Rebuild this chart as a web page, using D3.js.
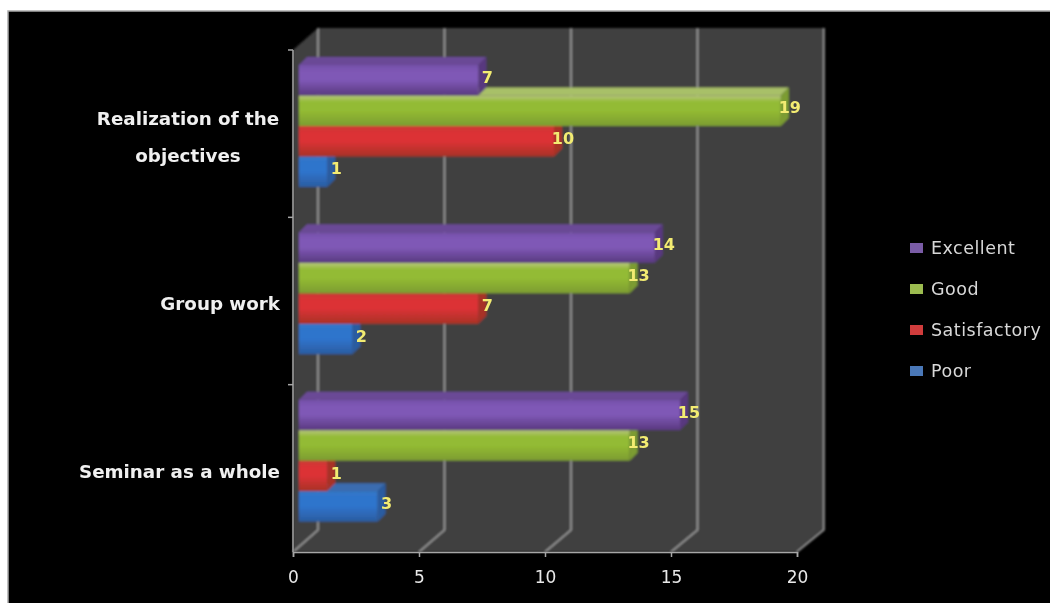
<!DOCTYPE html>
<html>
<head>
<meta charset="utf-8">
<script src="https://cdn.jsdelivr.net/npm/d3@7"></script>
<style>
  html, body { margin: 0; padding: 0; background: #fff; overflow: hidden; }
  svg { display: block; }
  text { font-family: "DejaVu Sans", sans-serif; }
</style>
</head>
<body>
<svg width="1050" height="603"></svg>
<script>
var categories = ["Realization of the objectives", "Group work", "Seminar as a whole"];
var categoryLines = [["Realization of the", "objectives"], ["Group work"], ["Seminar as a whole"]];
var seriesNames = ["Excellent", "Good", "Satisfactory", "Poor"];
var excellent = [7, 14, 15];
var good = [19, 13, 13];
var satisfactory = [10, 7, 1];
var poor = [1, 2, 3];
var xTicks = [0, 5, 10, 15, 20];

var seriesValues = [excellent, good, satisfactory, poor];
var colors = {
  Excellent: {top: "#6a4a96", edge: "#7450a8", hi: "#7f58b6", lo: "#59397f", key: "#7a5ca6"},
  Good: {top: "#a8c068", edge: "#b6c67c", hi: "#93bb34", lo: "#7c9c30", key: "#9cbc50"},
  Satisfactory: {top: "#b83a30", edge: "#c93a34", hi: "#dc3236", lo: "#a83226", key: "#d03c3c"},
  Poor: {top: "#3a6cb0", edge: "#3478c8", hi: "#2e74cc", lo: "#2c5ca0", key: "#4a78b8"}
};

var svg = d3.select("svg");
var left = 293, right = 797, top0 = 50, bottom = 552;
var wallLeft = 318, wallRight = 824, wallDy = 22;
var depthX = 8, depthY = 8;
var barShift = 7;

var x = d3.scaleLinear().domain([0, 20]).range([left, right]);
var xBack = d3.scaleLinear().domain([0, 20]).range([wallLeft, wallRight]);
var y = d3.scaleBand().domain(categories).range([top0, bottom]);
var inner = d3.scaleBand().domain(seriesNames).range([15, 137]);

var defs = svg.append("defs");
defs.append("filter").attr("id", "soft")
    .append("feGaussianBlur").attr("stdDeviation", 0.8);
defs.append("filter").attr("id", "softText")
    .append("feGaussianBlur").attr("stdDeviation", 0.4);
seriesNames.forEach(function(s, i) {
  var g = defs.append("linearGradient").attr("id", "grad" + i)
      .attr("x1", 0).attr("x2", 0).attr("y1", 0).attr("y2", 1);
  g.append("stop").attr("offset", "0%").attr("stop-color", colors[s].edge);
  g.append("stop").attr("offset", "22%").attr("stop-color", colors[s].hi);
  g.append("stop").attr("offset", "50%").attr("stop-color", colors[s].hi);
  g.append("stop").attr("offset", "100%").attr("stop-color", colors[s].lo);
});

// background
svg.append("rect").attr("x", 8).attr("y", 11).attr("width", 1060).attr("height", 610)
    .attr("fill", "#000").attr("stroke", "#aaa").attr("stroke-width", 1.5);

var g = svg.append("g").attr("filter", "url(#soft)");

// walls and floor
var pt = function(a, b) { return a + "," + b; };
g.append("polygon")
    .attr("points", [pt(left, top0), pt(wallLeft, top0 - wallDy), pt(wallRight, top0 - wallDy),
      pt(wallRight, bottom - wallDy), pt(right, bottom), pt(left, bottom)].join(" "))
    .attr("fill", "#414141");

// gridlines on back wall and floor
xTicks.forEach(function(t) {
  g.append("polyline")
      .attr("points", [pt(x(t), bottom), pt(xBack(t), bottom - wallDy), pt(xBack(t), top0 - wallDy)].join(" "))
      .attr("fill", "none").attr("stroke", "#a6a6a6").attr("stroke-width", 1.5);
});

// bars, bottom one first so the upper bar covers its top face
seriesNames.slice().reverse().forEach(function(s) {
  var i = seriesNames.indexOf(s);
  categories.forEach(function(c, j) {
    var v = seriesValues[i][j];
    var x0 = x(0) + barShift - 1, x1 = x(v) + barShift + 2;
    var y0 = y(c) + inner(s), h = inner.bandwidth();
    var bar = g.append("g");
    bar.append("polygon")
        .attr("points", [pt(x0, y0), pt(x0 + depthX, y0 - depthY), pt(x1 + depthX, y0 - depthY), pt(x1, y0)].join(" "))
        .attr("fill", colors[s].top);
    bar.append("polygon")
        .attr("points", [pt(x1, y0), pt(x1 + depthX, y0 - depthY), pt(x1 + depthX, y0 + h - depthY), pt(x1, y0 + h)].join(" "))
        .attr("fill", colors[s].lo);
    bar.append("rect")
        .attr("x", x0).attr("y", y0).attr("width", x1 - x0).attr("height", h)
        .attr("fill", "url(#grad" + i + ")");
  });
});

// axes
var xAxis = svg.append("g")
    .attr("transform", "translate(0," + bottom + ")")
    .call(d3.axisBottom(x).tickValues(xTicks).tickSize(5).tickPadding(14).tickFormat(d3.format("d")));
xAxis.selectAll("path, line").attr("stroke", "#a6a6a6").attr("stroke-width", 1.5);
xAxis.selectAll("text").attr("fill", "#e8e8e8").attr("filter", "url(#softText)").style("font-size", "17px");

var yLine = svg.append("g");
yLine.append("line").attr("x1", left).attr("x2", left).attr("y1", top0).attr("y2", bottom)
    .attr("stroke", "#a6a6a6").attr("stroke-width", 1.5);
categories.forEach(function(c) {
  yLine.append("line").attr("x1", left - 5).attr("x2", left).attr("y1", y(c)).attr("y2", y(c))
      .attr("stroke", "#a6a6a6").attr("stroke-width", 1.5);
});

// category labels
categories.forEach(function(c, j) {
  var lines = categoryLines[j];
  var center = y(c) + y.bandwidth() / 2 + 3;
  lines.forEach(function(line, k) {
    svg.append("text")
        .attr("x", lines.length > 1 ? 188 : 280)
        .attr("y", center + (k - (lines.length - 1) / 2) * 37)
        .attr("dy", "0.35em")
        .attr("text-anchor", lines.length > 1 ? "middle" : "end")
        .attr("fill", "#f0f0f0")
        .attr("filter", "url(#softText)")
        .style("font-size", "18.3px").style("font-weight", "bold")
        .text(line);
  });
});

// value labels
seriesNames.forEach(function(s, i) {
  categories.forEach(function(c, j) {
    var v = seriesValues[i][j];
    svg.append("text")
        .attr("x", x(v) + 18)
        .attr("y", y(c) + inner(s) + inner.bandwidth() / 2 - 3)
        .attr("dy", "0.35em")
        .attr("text-anchor", "middle")
        .attr("fill", "#f3ec72")
        .attr("filter", "url(#softText)")
        .style("font-size", "16px").style("font-weight", "bold")
        .text(v);
  });
});

// legend
var legendY = d3.scalePoint().domain(seriesNames).range([248, 371]);
seriesNames.forEach(function(s) {
  svg.append("rect")
      .attr("x", 910).attr("y", legendY(s) - 5).attr("width", 13).attr("height", 10)
      .attr("fill", colors[s].key);
  svg.append("text")
      .attr("x", 931).attr("y", legendY(s)).attr("dy", "0.35em")
      .attr("fill", "#d8d8d8")
      .attr("filter", "url(#softText)")
      .style("font-size", "17.5px").style("letter-spacing", "0.5px")
      .text(s);
});
</script>
</body>
</html>
